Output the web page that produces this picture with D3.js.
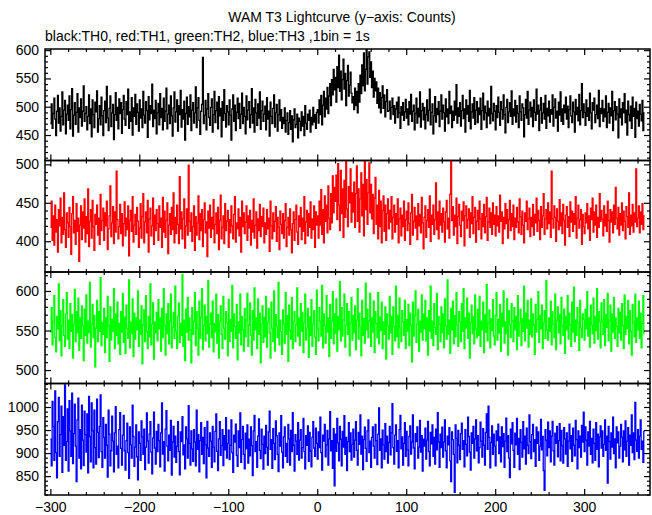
<!DOCTYPE html>
<html><head><meta charset="utf-8">
<script src="https://cdn.jsdelivr.net/npm/d3@7"></script>
<style>body{margin:0;background:#fff}svg{display:block}text{font-family:"Liberation Sans",Arial,sans-serif}</style>
</head><body><svg id="c" width="652" height="515"></svg>
<script>
const startTime = -300;
const th0 = [
470,505,462,488,515,478,449,492,520,471,498,457,483,526,468,494,511,452,487,503,
476,519,461,495,532,448,485,507,469,490,523,455,498,481,514,466,492,537,474,488,
500,459,483,521,470,496,447,512,486,463,508,491,528,455,479,502,468,517,484,449,
493,510,472,536,480,458,497,519,465,489,504,442,486,525,476,499,461,514,488,507,
453,495,520,478,467,509,486,531,462,491,474,516,450,498,483,522,469,505,490,457,
512,480,496,463,527,485,471,509,493,446,518,477,502,488,540,465,494,479,511,452,
489,506,468,523,481,497,459,515,474,492,533,461,487,503,470,519,484,448,498,526,
473,491,512,457,502,486,529,464,495,478,510,441,488,517,469,500,482,521,458,494,
507,471,489,535,463,498,516,476,451,492,504,587,470,485,511,459,496,523,481,467,
499,514,455,486,527,472,493,508,461,518,484,497,447,509,476,530,488,464,502,491,
468,512,485,441,496,521,474,503,458,490,515,479,506,462,487,524,470,499,483,452,
519,477,494,509,463,486,532,471,498,455,513,489,467,505,480,526,460,493,510,474,
487,501,459,516,478,492,448,508,483,470,497,521,464,489,504,457,486,512,475,495,
462,481,470,498,455,476,489,451,472,493,460,484,438,477,496,463,469,487,445,480,
474,458,491,466,483,449,502,471,460,487,476,494,455,481,468,499,473,486,462,490,
495,471,512,486,520,468,503,527,482,515,496,534,488,519,541,502,548,521,566,530,
552,508,571,534,591,527,563,512,548,584,531,559,502,546,573,519,538,561,524,507,
518,495,533,502,527,489,541,508,556,523,574,537,595,528,566,601,540,588,597,552,
579,534,563,517,550,528,544,506,533,498,525,489,516,537,497,521,482,509,530,492,
493,510,478,499,515,486,502,471,496,508,481,517,489,462,500,485,507,476,491,513,
480,496,468,509,487,522,474,492,503,459,488,515,471,497,482,526,464,493,506,477,
499,461,486,512,475,494,531,468,490,505,452,484,518,473,497,486,509,465,492,521,
478,503,489,457,514,482,496,470,527,488,501,463,492,476,510,485,539,471,498,483,
507,466,493,520,479,496,455,512,487,502,474,529,461,491,505,480,516,469,494,509,
472,498,486,515,460,493,524,477,501,489,463,510,484,497,470,536,488,475,506,492,
459,502,481,517,490,467,509,495,478,521,486,454,499,513,472,491,507,483,528,469,
496,484,511,473,502,488,463,519,491,476,505,498,447,486,513,480,527,469,494,508,
482,499,465,512,490,476,531,487,503,458,494,516,471,489,506,478,520,462,497,484,
510,473,495,487,521,466,499,514,480,492,457,508,485,526,474,496,469,503,489,517,
478,501,463,495,519,484,472,508,491,455,513,486,499,475,522,468,493,541,481,505,
490,467,512,483,498,476,524,489,461,507,494,515,472,486,503,479,529,465,497,488,
511,474,496,482,519,463,490,506,471,498,484,527,458,493,509,477,500,487,445,514,
481,496,468,507,489,523,472,494,450,510,486,475,501,462,517,483,497,446,508,479,
492,466,504,487,475,511,458,489];
const th1 = [
418,452,401,433,395,447,412,428,386,441,420,456,398,431,409,463,415,392,437,424,
405,444,419,383,436,458,411,427,396,449,413,430,374,421,446,402,438,417,455,399,
432,410,468,393,426,441,404,453,419,388,435,422,447,408,430,396,461,414,427,443,
401,437,420,452,389,416,433,472,406,424,445,397,438,412,491,428,403,419,448,410,
436,394,423,451,407,430,415,446,381,427,440,413,458,399,421,435,409,444,426,392,
417,449,404,432,462,398,425,438,411,453,386,429,443,407,420,456,396,434,414,441,
423,401,446,418,430,392,457,412,439,405,427,450,384,421,436,409,444,415,463,398,
431,410,447,422,397,484,416,438,403,429,455,391,420,442,408,499,426,413,437,400,
419,446,388,432,408,424,459,402,436,414,441,393,428,450,411,425,380,439,417,447,
405,431,416,454,398,422,437,410,444,389,427,460,403,418,433,397,449,414,426,440,
392,428,411,446,420,403,435,458,399,424,416,442,407,431,386,452,419,437,410,425,
446,401,433,417,440,395,427,412,455,404,421,438,391,429,414,448,406,432,419,443,
398,424,409,441,416,430,387,452,420,403,437,413,426,445,400,431,418,389,439,422,
410,436,404,427,449,393,418,431,408,442,415,385,423,438,401,428,447,412,396,433,
419,444,402,430,413,458,397,425,440,407,436,418,451,404,429,415,446,392,438,421,
433,404,452,421,467,409,441,398,459,426,447,411,472,430,415,462,424,485,437,470,
452,486,428,501,447,414,492,436,468,405,479,431,505,442,419,471,450,494,425,463,
438,477,418,462,498,426,468,412,455,489,433,474,407,505,441,480,422,463,502,437,
474,429,461,410,456,483,422,447,403,466,419,452,398,440,459,413,447,401,436,455,
416,440,425,458,403,431,447,412,436,422,455,398,429,443,407,434,419,452,401,428,
439,414,450,423,396,437,461,408,426,444,417,433,402,449,420,435,411,457,424,390,
431,446,405,427,441,418,459,400,434,422,447,409,428,476,415,438,403,452,421,436,
412,443,425,399,438,453,416,430,404,461,504,427,445,408,434,419,456,397,432,448,
421,406,439,427,451,394,433,446,417,428,442,405,437,423,458,410,431,444,399,426,
440,415,452,429,403,436,419,448,411,432,457,401,425,443,418,437,409,450,422,434,
407,445,420,433,412,460,426,438,397,431,416,449,423,441,404,428,453,414,436,419,
447,402,430,418,444,425,411,455,432,409,439,421,398,437,426,452,415,429,443,406,
431,419,448,408,435,424,456,413,440,427,402,445,418,433,462,409,429,441,416,450,
423,438,405,491,429,417,446,431,400,442,426,415,454,420,437,410,448,427,395,434,
445,418,432,406,451,425,439,413,436,422,458,404,430,447,417,428,441,396,435,419,
410,437,424,449,416,433,401,443,428,456,412,438,421,447,405,431,418,462,426,440,
429,407,446,420,435,413,452,427,399,441,425,438,411,447,422,470,430,416,444,408,
436,421,450,414,439,426,403,445,432,418,463,409,434,420,448,412,437,425,494,419,
430,446,411,438,422,449,415,433];
const th2 = [
548,579,532,561,594,541,523,568,552,609,537,575,518,556,589,544,530,571,598,539,
563,527,584,549,570,515,558,602,536,574,547,591,525,566,540,581,556,512,577,544,
595,534,562,547,611,529,558,583,541,569,504,553,588,536,574,549,617,531,560,545,
578,522,566,541,593,556,511,580,538,564,549,603,527,571,544,586,533,559,520,574,
548,597,535,567,521,582,553,540,614,528,561,546,590,517,572,539,566,551,600,530,
563,545,581,508,557,576,536,594,549,527,568,542,609,532,558,585,514,561,547,573,
537,589,552,566,524,578,541,603,556,519,571,546,584,533,562,596,528,554,573,540,
606,549,527,568,585,535,559,544,621,530,563,512,577,548,592,538,566,551,509,579,
545,562,598,531,574,553,519,587,540,567,603,526,556,582,537,568,546,613,529,558,
572,541,587,523,559,548,596,534,570,515,562,581,545,527,593,553,539,574,560,518,
589,536,564,549,607,528,571,555,540,583,513,561,547,596,532,568,551,524,578,542,
563,597,530,557,585,544,519,575,538,604,551,566,527,590,545,572,509,558,581,535,
567,542,593,529,561,578,547,515,586,553,536,600,524,570,555,541,611,532,563,549,
520,576,558,534,598,545,569,511,582,550,539,592,527,561,574,536,557,604,543,566,
531,584,549,573,522,560,596,538,553,578,516,567,544,589,530,558,575,542,520,601,
552,537,579,562,543,607,528,571,556,534,594,548,566,517,583,540,562,599,533,571,
546,590,524,568,551,612,537,579,543,563,596,529,557,584,545,574,518,560,592,538,
569,547,581,526,563,603,539,572,555,518,588,544,565,534,610,551,577,541,562,597,
530,566,548,587,522,574,559,541,598,533,567,550,586,527,561,545,580,514,571,556,
539,593,547,568,520,580,555,537,606,542,569,528,591,553,536,575,561,544,588,527,
564,549,583,531,572,557,510,586,543,569,600,535,558,577,524,562,548,595,538,571,
552,588,537,566,519,575,549,606,540,562,531,584,554,545,597,526,568,558,536,580,
547,571,528,590,556,539,614,545,563,521,578,551,587,533,569,542,598,557,530,574,
561,536,584,549,603,527,566,553,591,540,572,515,560,582,546,568,533,595,552,541,
577,544,593,530,562,551,586,522,570,548,608,537,559,576,528,565,550,589,543,532,
569,598,538,564,547,583,524,572,555,600,534,561,546,590,519,575,557,541,584,562,
536,579,551,568,526,594,543,560,577,531,565,549,606,537,572,553,588,529,563,545,
590,542,571,557,520,583,548,564,599,535,569,552,582,527,560,575,540,613,551,538,
566,549,587,532,574,558,541,596,526,563,580,547,570,533,592,556,544,577,521,568,
551,594,539,572,557,530,586,548,605,536,563,544,579,560,525,588,553,541,571,564,
538,577,552,599,543,566,529,582,557,546,591,534,568,550,603,539,574,561,528,585,
562,545,589,531,570,554,597,537,563,582,524,571,548,592,540,566,555,530,578,547,
573,538,584,556,527,595,545,568,552,588,533,575,549,519,583,560,542,596,535,566,
551,587,540,572,528,559,594,546];
const th3 = [
930,872,1012,958,884,1035,901,846,968,1021,893,940,1002,858,979,917,1048,884,925,996,
861,1014,948,893,1030,877,942,1006,915,838,972,1019,889,951,866,1004,928,873,991,940,
902,985,857,1023,936,881,1009,948,868,993,912,876,1017,945,890,958,1026,903,869,977,
934,889,962,917,848,993,941,872,905,980,926,859,944,1001,897,915,868,951,988,910,
874,939,982,905,863,927,965,901,845,957,918,889,1004,936,871,913,961,892,842,946,
921,884,970,935,897,952,864,913,987,926,878,941,968,902,855,933,989,911,876,947,
903,962,927,870,944,1009,898,925,861,952,992,915,883,939,906,971,852,924,958,891,
937,880,915,968,903,853,946,925,979,896,918,866,957,931,889,1003,921,874,948,909,
882,951,924,872,993,908,940,859,927,966,897,934,877,955,918,846,969,911,893,944,
926,869,958,913,881,947,985,904,862,931,968,895,916,951,873,938,907,977,889,921,
950,886,917,972,901,858,939,924,963,895,871,948,912,987,880,929,958,897,866,943,
909,961,878,930,894,957,916,851,948,982,903,925,869,937,974,906,888,952,919,865,
937,899,960,913,874,946,991,908,929,867,953,921,886,970,938,897,860,944,915,981,
902,868,935,957,893,921,880,962,931,874,949,903,988,917,861,940,926,897,966,885,
928,951,889,912,975,903,866,938,917,959,882,945,904,870,934,968,911,893,954,921,
887,946,912,978,901,863,939,926,962,892,918,949,874,931,990,905,927,867,953,829,
941,904,975,922,883,958,930,872,947,913,981,897,934,862,925,966,903,944,885,919,
952,891,928,968,906,874,945,919,983,898,937,864,929,956,910,882,948,972,901,926,
869,934,957,915,889,962,927,875,941,998,906,931,868,950,918,887,964,903,937,878,
923,958,896,944,1007,912,876,939,961,904,927,868,951,982,909,935,874,921,966,893,
947,907,872,936,959,898,924,983,911,866,942,925,957,889,913,971,902,938,861,930,
915,954,887,928,969,903,872,945,920,961,893,934,876,952,907,988,924,869,941,912,
956,891,924,972,905,868,937,918,955,883,838,946,929,897,815,961,932,879,949,917,
886,942,965,908,927,870,951,919,894,978,936,902,863,944,921,958,889,931,972,905,
938,879,912,967,926,891,953,917,874,945,985,908,1002,934,868,923,959,897,941,915,
872,948,927,963,899,935,881,957,914,942,869,926,976,903,938,889,847,952,920,966,
906,869,943,918,975,897,932,864,951,923,891,968,909,937,876,954,917,899,983,925,
888,940,962,903,929,871,956,921,946,884,915,973,907,936,862,819,951,928,894,967,
912,948,881,937,969,905,874,943,921,958,892,927,964,883,949,916,878,955,931,898,
944,871,926,963,909,938,882,954,917,894,971,929,866,948,912,937,891,960,924,989,
903,957,928,874,946,915,969,897,932,879,952,921,884,966,908,941,870,935,959,911,
948,893,919,972,906,937,835,958,925,887,944,913,978,899,931,868,957,922,946,889,
915,962,934,881,948,907,970,893,926,955,874,939,917,983,901,944,886,1010,928,904,
951,889,937,972,908,926,880,947];

const seriesNames = ["TH0","TH1","TH2","TH3"];
const seriesValues = [th0, th1, th2, th3];
const seriesColors = ["#000000","#ff0000","#00ff00","#0000ff"];
const yDomains = [[405,602],[360,505],[483,624],[809,1051]];
const yMajorTicks = [[450,500,550,600],[400,450,500],[500,550,600],[850,900,950,1000]];
const xDomain = [-306, 374];
const xMajorTicks = [-300,-200,-100,0,100,200,300];
const titleText = "WAM T3 Lightcurve (y\u2212axis: Counts)";
const subtitleText = "black:TH0, red:TH1, green:TH2, blue:TH3 ,1bin = 1s";

const svg = d3.select("#c");
svg.append("rect").attr("width",652).attr("height",515).attr("fill","#fff");
const L = 45, R = 650, T = 49, B = 495;
const ph = (B - T) / 4;
const x = d3.scaleLinear().domain(xDomain).range([L, R]);
const xMinor = d3.range(-300, 375, 20).filter(v => v % 100 !== 0);

svg.append("text").attr("x", 342).attr("y", 22).attr("text-anchor","middle")
  .attr("font-size", 14).text(titleText);
svg.append("text").attr("x", 45).attr("y", 41).attr("font-size", 14).text(subtitleText);

seriesValues.forEach((vals, i) => {
  const top = T + i * ph, bot = top + ph;
  const y = d3.scaleLinear().domain(yDomains[i]).range([bot, top]);
  const g = svg.append("g");
  const cid = "clip" + i;
  svg.append("clipPath").attr("id", cid).append("rect")
    .attr("x", L).attr("y", top).attr("width", R - L).attr("height", ph);
  const pts = vals.map((v, k) => [startTime + k, v]);
  pts.push([startTime + vals.length, vals[vals.length - 1]]);
  const line = d3.line().x(d => x(d[0])).y(d => y(d[1])).curve(d3.curveStepAfter);
  g.append("path").attr("d", line(pts)).attr("fill","none")
    .attr("stroke", seriesColors[i]).attr("stroke-width", 1.3)
    .attr("clip-path", `url(#${cid})`);

  const [d0, d1] = yDomains[i];
  const yMinor = d3.range(Math.ceil(d0/10)*10, d1 + 0.1, 10).filter(v => !yMajorTicks[i].includes(v));
  const la = g.append("g").attr("transform", `translate(${L},0)`)
    .call(d3.axisLeft(y).tickValues(yMajorTicks[i]).tickSize(-6).tickPadding(6).tickFormat(d3.format("d")));
  la.select(".domain").remove();
  la.selectAll("text").attr("font-size", 14).attr("fill","#000").attr("font-family","Liberation Sans, Arial, sans-serif");
  g.append("g").attr("transform", `translate(${L},0)`)
    .call(d3.axisLeft(y).tickValues(yMinor).tickSize(-3).tickFormat(""))
    .select(".domain").remove();
  const ra = g.append("g").attr("transform", `translate(${R},0)`)
    .call(d3.axisRight(y).tickValues(yMajorTicks[i]).tickSize(-6).tickFormat(""));
  ra.select(".domain").remove();
  g.append("g").attr("transform", `translate(${R},0)`)
    .call(d3.axisRight(y).tickValues(yMinor).tickSize(-3).tickFormat(""))
    .select(".domain").remove();
  [[top, d3.axisTop],[bot, d3.axisBottom]].forEach(([yy, ax]) => {
    const a1 = g.append("g").attr("transform", `translate(0,${yy})`)
      .call(ax(x).tickValues(xMajorTicks).tickSize(-6).tickFormat(""));
    a1.select(".domain").remove();
    const a2 = g.append("g").attr("transform", `translate(0,${yy})`)
      .call(ax(x).tickValues(xMinor).tickSize(-3).tickFormat(""));
    a2.select(".domain").remove();
  });
  g.selectAll(".tick line").attr("stroke","#000").attr("stroke-width",1.2);
  g.append("rect").attr("x", L).attr("y", top).attr("width", R - L).attr("height", ph)
    .attr("fill","none").attr("stroke","#000").attr("stroke-width",1.5);
  if (i === 3) {
    const xa = svg.append("g").attr("transform", `translate(0,${B})`)
      .call(d3.axisBottom(x).tickValues(xMajorTicks).tickSize(0).tickPadding(7));
    xa.select(".domain").remove();
    xa.selectAll("text").attr("font-size", 14).attr("fill","#000").attr("font-family","Liberation Sans, Arial, sans-serif");
  }
});
</script></body></html>
